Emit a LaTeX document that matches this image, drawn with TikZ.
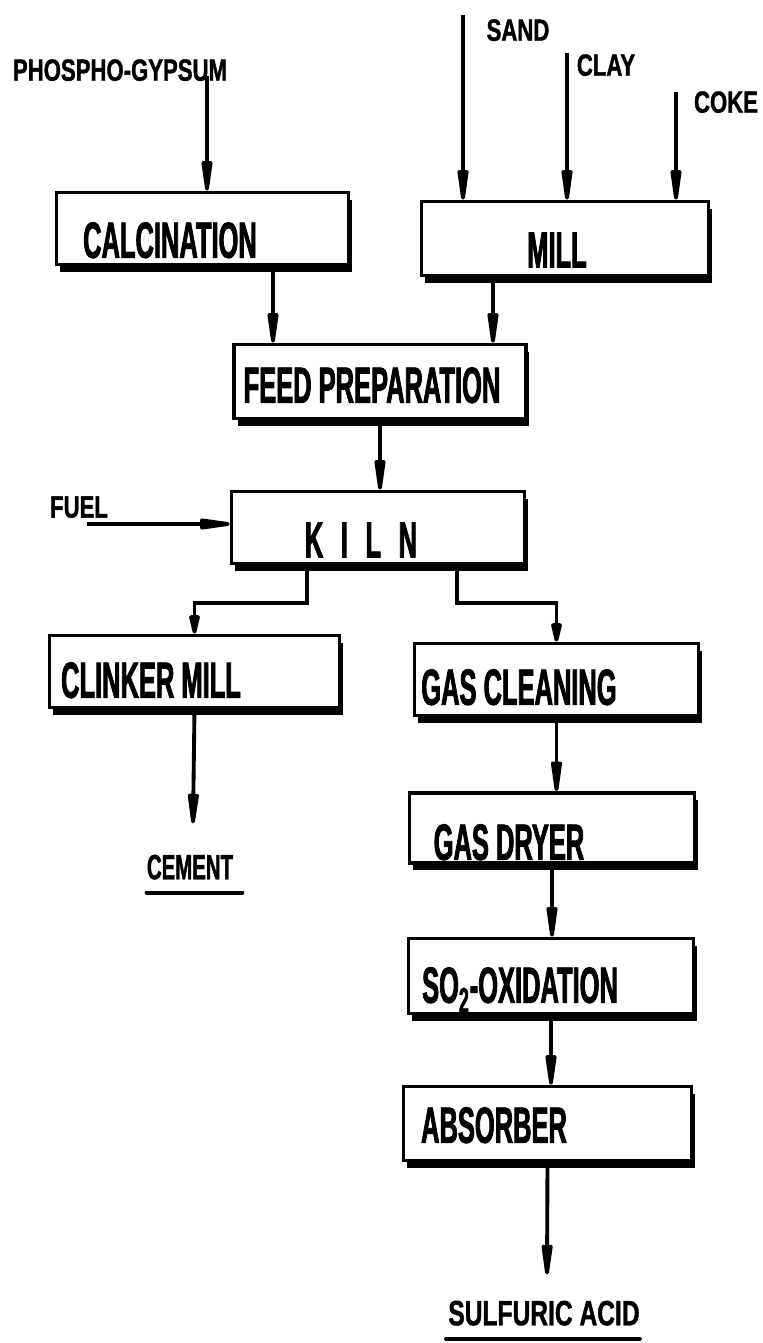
\documentclass[tikz,border=0pt]{standalone}
\usepackage{fontspec}
\usetikzlibrary{arrows.meta,calc,shadows}
\newfontfamily\boxfont[FakeStretch=0.5, FakeBold=1.5]{Liberation Sans}
\newfontfamily\feedfont[FakeStretch=0.72, FakeBold=1.2]{Liberation Sans}
\newfontfamily\cementfont[FakeStretch=0.58, FakeBold=1.2]{Liberation Sans}
\newfontfamily\acidfont[FakeStretch=0.7, FakeBold=1.2]{Liberation Sans}

\begin{document}
\begin{tikzpicture}[
    x=0.02cm, y=-0.02cm,
    unit/.style 2 args={draw, line width=2.1pt, fill=white, inner sep=0pt,
        minimum width=#1cm, minimum height=#2cm,
        drop shadow={shadow xshift=2pt, shadow yshift=-4pt, opacity=1, fill=black}},
    boxtext/.style={inner sep=0pt, text depth=0pt, font=\boxfont\bfseries\fontsize{29}{31}\selectfont},
    feedtext/.style={inner sep=0pt, text depth=0pt, font=\feedfont\bfseries\fontsize{17.5}{19}\selectfont},
    prodtext/.style={inner sep=0pt, text depth=0pt, font=\bfseries\fontsize{20}{22}\selectfont},
    flow/.style={line width=2.2pt, -{Triangle[length=25pt, width=6pt, round]}},
    branch/.style={line width=2.2pt, -{Triangle[length=15pt, width=6pt, round]}},
    uline/.style={line width=2.2pt, line cap=round},
]

% === Page ===
\fill[white] (0,0) rectangle (762,1343);
\useasboundingbox (0,0) rectangle (762,1343);

% === Process units ===
\node[unit={5.84}{1.44}] (calc)     at (202.5,228.5) {};
\node[unit={5.74}{1.48}] (mill)     at (565,238.5)   {};
\node[unit={5.84}{1.48}] (feed)     at (380,381.5)   {};
\node[unit={5.86}{1.44}] (kiln)     at (378,527.5)   {};
\node[unit={5.80}{1.44}] (clinker)  at (194.5,671.5) {};
\node[unit={5.68}{1.44}] (gasclean) at (556.5,679.5) {};
\node[unit={5.70}{1.40}] (dryer)    at (552,828)     {};
\node[unit={5.70}{1.50}] (oxid)     at (551,976)     {};
\node[unit={5.76}{1.48}] (absorb)   at (547.5,1123.5) {};

% === Unit labels ===
\node[boxtext] (tcalc)     at (170,240)  {CALCINATION};
\node[boxtext] (tmill)     at (557,250)  {MILL};
\node[boxtext] (tfeed)     at (372,385)  {FEED PREPARATION};
\node[boxtext] (tkiln)     at (361,540)  {K\hspace{10pt}I\hspace{10pt}L\hspace{10pt}N};
\node[boxtext] (tclinker)  at (151,680)  {CLINKER MILL};
\node[boxtext] (tgasclean) at (519,687)  {GAS CLEANING};
\node[boxtext] (tdryer)    at (509,842)  {GAS DRYER};
\node[boxtext] (toxid)     at (520,985)  {SO\textsubscript{2}-OXIDATION};
\node[boxtext] (tabsorb)   at (494,1125) {ABSORBER};

% === Raw materials ===
\node[feedtext] (phos) at (120,70) {PHOSPHO-GYPSUM};
\coordinate (phos-in) at (207,76);
\draw[flow] (phos-in) -- (phos-in |- calc.north);

\foreach \name/\lab/\x/\y/\lx/\ly in {sand/SAND/463/15/518/30,
    clay/CLAY/567/53/606/65, coke/COKE/676/92/726/102} {
  \node[feedtext] (\name) at (\lx,\ly) {\lab};
  \coordinate (\name-in) at (\x,\y);
  \draw[flow] (\name-in) -- (\name-in |- mill.north);
}

\node[feedtext] (fuel) at (79,507) {FUEL};
\coordinate (fuel-in) at (87,524);
\draw[flow] (fuel-in) -- (fuel-in -| kiln.west);

% === Main line ===
\coordinate (c1) at (273,0);
\coordinate (m1) at (493,0);
\draw[flow] (calc.south -| c1) -- (feed.north -| c1);
\draw[flow] (mill.south -| m1) -- (feed.north -| m1);
\draw[flow] (feed.south) -- (feed.south |- kiln.north);

% === Kiln split ===
\coordinate (k1) at (307,603);
\coordinate (k2) at (457,603);
\draw[branch] (kiln.south -| k1) -- (k1) -| (clinker.north);
\draw[branch] (kiln.south -| k2) -- (k2) -| (gasclean.north);

% === Acid plant ===
\draw[flow] (gasclean.south) -- (gasclean.south |- dryer.north);
\draw[flow] (dryer.south) -- (dryer.south |- oxid.north);
\draw[flow] (oxid.south) -- (oxid.south |- absorb.north);

% === Products ===
\node[prodtext, font=\cementfont\bfseries\fontsize{20}{22}\selectfont] (cement) at (190,867) {CEMENT};
\node[prodtext, font=\acidfont\bfseries\fontsize{20}{22}\selectfont] (acid) at (544,1313) {SULFURIC ACID};
\draw[flow] (clinker.south) -- ($(cement.north)+(3,-31)$);
\draw[flow] (absorb.south) -- ($(acid.north)+(3,-26)$);
\draw[uline] ($(cement.south west)+(0,13)$) -- ($(cement.south east)+(9,13)$);
\draw[uline] ($(acid.south west)+(-2,13)$) -- ($(acid.south east)+(0,13)$);

\end{tikzpicture}
\end{document}
